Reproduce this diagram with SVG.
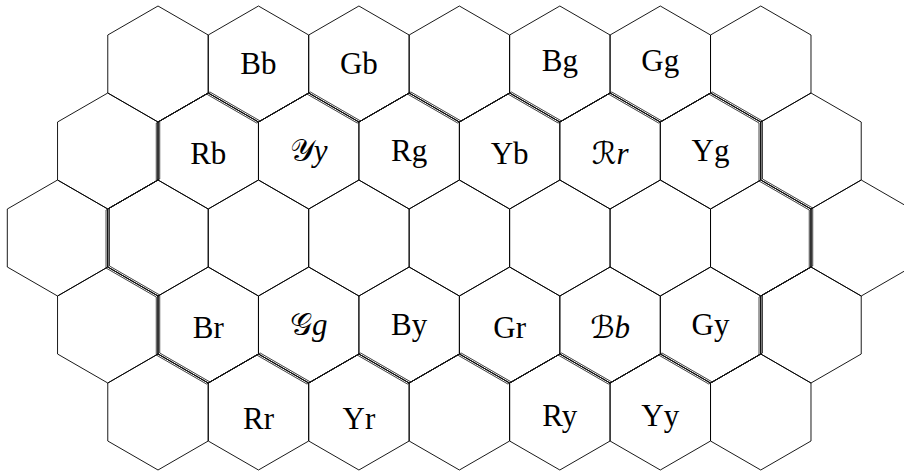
<svg xmlns="http://www.w3.org/2000/svg" width="904" height="475" viewBox="0 0 904 475">
<style>
.hex{fill:none;stroke:#000;stroke-width:0.9;stroke-linejoin:miter}
.lbl{font-family:"Liberation Serif","DejaVu Serif",serif;font-size:31px;text-anchor:middle;fill:#000}
.cal{font-family:"DejaVu Serif","DejaVu Sans",serif;font-style:normal}
.it{font-style:italic}
.bd{fill:none;stroke:#111;stroke-width:0.8;stroke-linejoin:miter}
</style>
<defs>
<polygon id="hx" class="hex" points="0,-58 50.23,-29 50.23,29 0,58 -50.23,29 -50.23,-29"/>
<path id="bpath" class="bd" d="M158,122 L208.23,93 L258.46,122 L308.69,93 L358.92,122 L409.15,93 L459.38,122 L509.61,93 L559.84,122 L610.07,93 L660.3,122 L710.53,93 L760.76,122 L760.76,180 L810.99,209 L810.99,267 L760.76,296 L760.76,354 L710.53,383 L660.3,354 L610.07,383 L559.84,354 L509.61,383 L459.38,354 L409.15,383 L358.92,354 L308.69,383 L258.46,354 L208.23,383 L158,354 L158,296 L107.77,267 L107.77,209 L158,180 Z"/>
</defs>
<rect width="904" height="475" fill="#fff"/>
<!-- row 0 -->
<g id="h0-0"><use href="#hx" x="158" y="64"/></g>
<g id="h0-1"><use href="#hx" x="258.46" y="64"/><text class="lbl" x="258.46" y="74">Bb</text></g>
<g id="h0-2"><use href="#hx" x="358.92" y="64"/><text class="lbl" x="358.92" y="74">Gb</text></g>
<g id="h0-3"><use href="#hx" x="459.38" y="64"/></g>
<g id="h0-4"><use href="#hx" x="559.84" y="64"/><text class="lbl" x="559.84" y="71">Bg</text></g>
<g id="h0-5"><use href="#hx" x="660.3" y="64"/><text class="lbl" x="660.3" y="71">Gg</text></g>
<g id="h0-6"><use href="#hx" x="760.76" y="64"/></g>
<!-- row 1 -->
<g id="h1-0"><use href="#hx" x="107.77" y="151"/></g>
<g id="h1-1"><use href="#hx" x="208.23" y="151"/><text class="lbl" x="208.23" y="164">Rb</text></g>
<g id="h1-2"><use href="#hx" x="308.69" y="151"/><text class="lbl" x="308.69" y="161"><tspan class="cal">𝒴</tspan><tspan class="it">y</tspan></text></g>
<g id="h1-3"><use href="#hx" x="409.15" y="151"/><text class="lbl" x="409.15" y="161">Rg</text></g>
<g id="h1-4"><use href="#hx" x="509.61" y="151"/><text class="lbl" x="509.61" y="164">Yb</text></g>
<g id="h1-5"><use href="#hx" x="610.07" y="151"/><text class="lbl" x="610.07" y="164"><tspan class="cal">ℛ</tspan><tspan class="it">r</tspan></text></g>
<g id="h1-6"><use href="#hx" x="710.53" y="151"/><text class="lbl" x="710.53" y="161">Yg</text></g>
<g id="h1-7"><use href="#hx" x="810.99" y="151"/></g>
<!-- row 2 -->
<g id="h2-0"><use href="#hx" x="57.54" y="238"/></g>
<g id="h2-1"><use href="#hx" x="158" y="238"/></g>
<g id="h2-2"><use href="#hx" x="258.46" y="238"/></g>
<g id="h2-3"><use href="#hx" x="358.92" y="238"/></g>
<g id="h2-4"><use href="#hx" x="459.38" y="238"/></g>
<g id="h2-5"><use href="#hx" x="559.84" y="238"/></g>
<g id="h2-6"><use href="#hx" x="660.3" y="238"/></g>
<g id="h2-7"><use href="#hx" x="760.76" y="238"/></g>
<g id="h2-8"><use href="#hx" x="861.22" y="238"/></g>
<!-- row 3 -->
<g id="h3-0"><use href="#hx" x="107.77" y="325"/></g>
<g id="h3-1"><use href="#hx" x="208.23" y="325"/><text class="lbl" x="208.23" y="338">Br</text></g>
<g id="h3-2"><use href="#hx" x="308.69" y="325"/><text class="lbl" x="308.69" y="335"><tspan class="cal">𝒢</tspan><tspan class="it">g</tspan></text></g>
<g id="h3-3"><use href="#hx" x="409.15" y="325"/><text class="lbl" x="409.15" y="335">By</text></g>
<g id="h3-4"><use href="#hx" x="509.61" y="325"/><text class="lbl" x="509.61" y="338">Gr</text></g>
<g id="h3-5"><use href="#hx" x="610.07" y="325"/><text class="lbl" x="610.07" y="338"><tspan class="cal">ℬ</tspan><tspan class="it">b</tspan></text></g>
<g id="h3-6"><use href="#hx" x="710.53" y="325"/><text class="lbl" x="710.53" y="335">Gy</text></g>
<g id="h3-7"><use href="#hx" x="810.99" y="325"/></g>
<!-- row 4 -->
<g id="h4-0"><use href="#hx" x="158" y="412"/></g>
<g id="h4-1"><use href="#hx" x="258.46" y="412"/><text class="lbl" x="258.46" y="429">Rr</text></g>
<g id="h4-2"><use href="#hx" x="358.92" y="412"/><text class="lbl" x="358.92" y="429">Yr</text></g>
<g id="h4-3"><use href="#hx" x="459.38" y="412"/></g>
<g id="h4-4"><use href="#hx" x="559.84" y="412"/><text class="lbl" x="559.84" y="426">Ry</text></g>
<g id="h4-5"><use href="#hx" x="660.3" y="412"/><text class="lbl" x="660.3" y="426">Yy</text></g>
<g id="h4-6"><use href="#hx" x="760.76" y="412"/></g>
<!-- boundary drawn three times, offset along the 30° direction -->
<g id="connectors">
<use href="#bpath" x="-1.73" y="1"/>
<use href="#bpath" x="0" y="0"/>
<use href="#bpath" x="1.73" y="-1"/>
</g>
</svg>
